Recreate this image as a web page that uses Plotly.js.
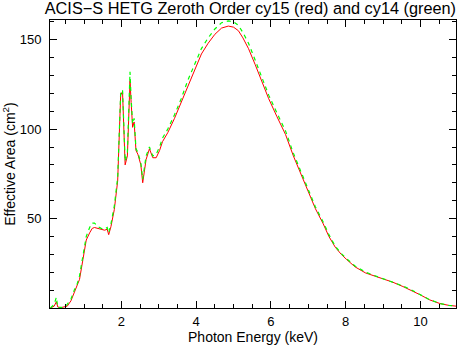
<!DOCTYPE html>
<html>
<head>
<meta charset="utf-8">
<script src="https://cdn.plot.ly/plotly-3.0.1.min.js"></script>
<style>html,body{margin:0;padding:0;background:#fff;}#plot{width:476px;height:345px;}</style>
</head>
<body>
<div id="plot"></div>
<script>
const energy = [0.10,0.2,0.26,0.3,0.4,0.5,0.55,0.65,0.74,0.81,0.88,0.97,1.06,1.15,1.22,1.28,1.37,1.46,1.55,1.62,1.66,1.72,1.81,1.9,1.95,1.98,2.03,2.07,2.1,2.16,2.2,2.23,2.26,2.3,2.34,2.39,2.44,2.48,2.52,2.57,2.62,2.66,2.75,2.8,2.84,2.93,3.02,3.1,3.24,3.42,3.6,3.78,3.96,4.14,4.32,4.5,4.68,4.86,5.0,5.13,5.25,5.4,5.58,5.76,5.94,6.16,6.39,6.6,6.84,7.0,7.19,7.4,7.55,7.72,7.88,8.03,8.25,8.53,8.75,8.99,9.25,9.53,9.75,9.98,10.25,10.52,10.75,10.97];
const areaCy15 = [0,1,3.5,0.5,0.3,0.5,1,4,8.5,12,16,27,38,42,44.5,45,44.5,43.7,43.5,44,41,45.5,55,71,95,119,121,95,80,85,110,127,115,101,104,88,86,83,80,70,78,83,89,86,84,84,88,93,98,106,115,125,134,142,148,153,156.5,157.6,157,155,151,145,136,126,117,107,97,85,73,65,55.5,47,40,34,30,27,23,19.6,18,16.5,14.5,12,10,7.5,4.5,2.5,1.5,1];
const areaCy14 = [0,2,6,0,0.3,1,2,5,10,13,18,29,40,45,47.5,47.5,45.5,44.5,44,45,42,47,57,73,97,120,122,96,82,87,113,132,117,103,106,89,87,84,81,72,80,85,90,87,85,86,90,95,100,108,117,127.5,136.5,145,151,156,159.5,160.5,160,158,154,148,138.5,128.5,119,109,99,86.5,74.5,66,56.5,48,41,34.5,30.5,27.5,23.5,20,18.3,16.8,14.8,12.3,10.2,7.6,4.6,2.5,1.5,1];
const xTickVals = [2,4,6,8,10];
const yTickVals = [50,100,150];
const titleText = 'ACIS\u2212S HETG Zeroth Order cy15 (red) and cy14 (green)';
const xTitle = 'Photon Energy (keV)';
const yTitle = 'Effective Area (cm<sup>2</sup>)';

const traces = [
  {x: energy, y: areaCy15, mode: 'lines', line: {color: '#ff0000', width: 1}, hoverinfo: 'none'},
  {x: energy, y: areaCy14, mode: 'lines', line: {color: '#00ff00', width: 1.2, dash: '4px,4px'}, hoverinfo: 'none'}
];
const fontFam = 'Liberation Sans, Arial, sans-serif';
const layout = {
  width: 476, height: 345,
  margin: {l: 50, r: 20, t: 20, b: 37, pad: 0},
  paper_bgcolor: '#fff', plot_bgcolor: '#fff',
  showlegend: false,
  font: {family: fontFam, color: '#000', size: 13},
  title: {text: titleText, font: {family: fontFam, size: 16.3, color: '#000'}, x: 0.526, xanchor: 'center', y: 0.975, yanchor: 'middle'},
  xaxis: {
    range: [0.09, 10.95], tickvals: xTickVals, ticktext: xTickVals.map(String),
    ticks: 'inside', ticklen: 7, tickcolor: '#000', showline: true, linecolor: '#000', linewidth: 1, mirror: 'allticks',
    showgrid: false, zeroline: false,
    minor: {dtick: 0.5, tick0: 0, ticks: 'inside', ticklen: 4, tickcolor: '#000', showgrid: false},
    tickfont: {size: 13}, ticklabelstandoff: 1,
    title: {text: xTitle, font: {size: 14}, standoff: 1}
  },
  yaxis: {
    range: [0, 161], tickvals: yTickVals, ticktext: yTickVals.map(String),
    ticks: 'inside', ticklen: 7, tickcolor: '#000', showline: true, linecolor: '#000', linewidth: 1, mirror: 'allticks',
    showgrid: false, zeroline: false,
    minor: {dtick: 10, tick0: 0, ticks: 'inside', ticklen: 4, tickcolor: '#000', showgrid: false},
    tickfont: {size: 13}, ticklabelstandoff: 5,
    title: {text: yTitle, font: {size: 14}, standoff: 4}
  }
};
Plotly.newPlot('plot', traces, layout, {staticPlot: true, displayModeBar: false});
</script>
</body>
</html>
